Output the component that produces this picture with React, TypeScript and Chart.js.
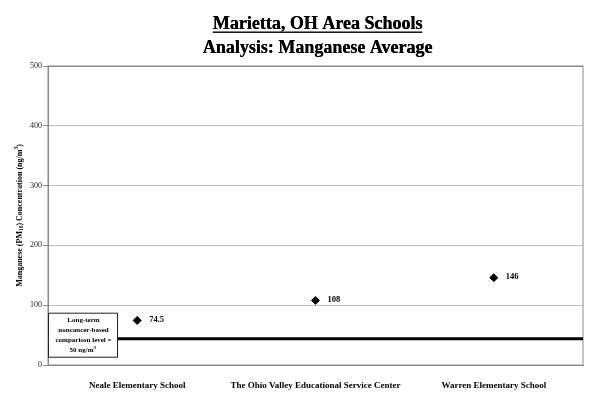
import React, { useEffect, useRef } from "react";
import { Chart, registerables } from "chart.js";

Chart.register(...registerables);

const categories = [
  "Neale Elementary School",
  "The Ohio Valley Educational Service Center",
  "Warren Elementary School",
];
const averages = [74.5, 108, 146];
const averageLabels = ["74.5", "108", "146"];
const comparisonLevel = 44;
const comparisonText = ["Long-term", "noncancer-based", "comparison level =", "50 ng/m"];
const yTicks = [0, 100, 200, 300, 400, 500];
const titleLines = ["Marietta, OH Area Schools", "Analysis: Manganese Average"];
const yTitleParts = [
  { t: "Manganese (PM", k: "n" },
  { t: "10", k: "sub" },
  { t: ") Concentration (ng/m", k: "n" },
  { t: "3", k: "sup" },
  { t: ")", k: "n" },
];

const SERIF = "'Liberation Serif', 'Times New Roman', serif";

const decorPlugin = {
  id: "decor",
  beforeDatasetsDraw(chart: any) {
    const { ctx, chartArea } = chart;
    const y = chart.scales.y;
    ctx.save();
    ctx.strokeStyle = "#8a8a8a";
    ctx.lineWidth = 1;
    ctx.strokeRect(chartArea.left, chartArea.top, chartArea.right - chartArea.left, chartArea.bottom - chartArea.top);
    const ly = y.getPixelForValue(comparisonLevel);
    ctx.strokeStyle = "#000";
    ctx.lineWidth = 3;
    ctx.beginPath();
    ctx.moveTo(chartArea.left, ly);
    ctx.lineTo(chartArea.right, ly);
    ctx.stroke();
    const bx = chartArea.left;
    const bw = 69;
    const by = ly - 26;
    const bh = 44;
    ctx.fillStyle = "#fff";
    ctx.fillRect(bx, by, bw, bh);
    ctx.strokeStyle = "#222";
    ctx.lineWidth = 1;
    ctx.strokeRect(bx + 0.5, by + 0.5, bw, bh);
    ctx.fillStyle = "#000";
    ctx.font = `bold 7px ${SERIF}`;
    ctx.textAlign = "center";
    ctx.textBaseline = "middle";
    const cx = bx + bw / 2 + 1;
    comparisonText.forEach((line, i) => {
      const ty = by + 7 + i * 10.3;
      if (i === comparisonText.length - 1) {
        const w = ctx.measureText(line).width;
        ctx.textAlign = "left";
        ctx.fillText(line, cx - w / 2 - 2, ty);
        ctx.font = `bold 5px ${SERIF}`;
        ctx.fillText("3", cx + w / 2 - 2, ty - 3);
      } else {
        ctx.fillText(line, cx, ty);
      }
    });
    ctx.restore();
  },
  afterDatasetsDraw(chart: any) {
    const { ctx } = chart;
    const meta = chart.getDatasetMeta(0);
    ctx.save();
    ctx.fillStyle = "#000";
    ctx.font = `bold 8.5px ${SERIF}`;
    ctx.textAlign = "left";
    ctx.textBaseline = "middle";
    meta.data.forEach((pt: any, i: number) => {
      ctx.fillText(averageLabels[i], pt.x + 12, pt.y - 1);
    });
    ctx.restore();
  },
  afterDraw(chart: any) {
    const { ctx, chartArea } = chart;
    ctx.save();
    const tx = (chartArea.left + chartArea.right) / 2 + 2;
    ctx.fillStyle = "#000";
    ctx.textAlign = "center";
    ctx.textBaseline = "alphabetic";
    ctx.font = `bold 18px ${SERIF}`;
    // slight double strike for heavier weight
    ctx.fillText(titleLines[0], tx, 29);
    ctx.fillText(titleLines[0], tx + 0.4, 29);
    const w = ctx.measureText(titleLines[0]).width;
    ctx.fillRect(tx - w / 2, 31.5, w, 1.4);
    ctx.fillText(titleLines[1], tx, 53);
    ctx.fillText(titleLines[1], tx + 0.4, 53);
    const cy = (chartArea.top + chartArea.bottom) / 2;
    ctx.translate(20, cy);
    ctx.rotate(-Math.PI / 2);
    const fontN = `bold 8px ${SERIF}`;
    const fontS = `bold 5.5px ${SERIF}`;
    let total = 0;
    yTitleParts.forEach((p) => {
      ctx.font = p.k === "n" ? fontN : fontS;
      total += ctx.measureText(p.t).width;
    });
    let x = -total / 2;
    ctx.textAlign = "left";
    ctx.textBaseline = "middle";
    yTitleParts.forEach((p) => {
      ctx.font = p.k === "n" ? fontN : fontS;
      const dy = p.k === "sub" ? 2 : p.k === "sup" ? -3 : 0;
      ctx.fillText(p.t, x, dy);
      x += ctx.measureText(p.t).width;
    });
    ctx.restore();
  },
};

export default function App() {
  const ref = useRef<HTMLCanvasElement>(null);
  useEffect(() => {
    document.body.style.margin = "0";
    const chart = new Chart(ref.current as HTMLCanvasElement, {
      type: "line",
      data: {
        labels: categories,
        datasets: [
          {
            data: averages,
            showLine: false,
            pointStyle: "rectRot",
            pointRadius: 4,
            pointBackgroundColor: "#000",
            pointBorderColor: "#000",
          },
        ],
      },
      options: {
        animation: false,
        responsive: true,
        maintainAspectRatio: false,
        layout: { padding: { top: 66, right: 17, bottom: 0, left: 0 } },
        plugins: { legend: { display: false }, tooltip: { enabled: false }, title: { display: false } },
        scales: {
          x: {
            offset: true,
            grid: { display: false },
            border: { color: "#8a8a8a" },
            ticks: {
              autoSkip: false,
              maxRotation: 0,
              padding: 7,
              color: "#000",
              font: { family: SERIF, size: 9, weight: "bold" },
            },
            afterFit: (s: any) => {
              s.height = 49;
            },
          },
          y: {
            min: 0,
            max: 500,
            afterBuildTicks: (s: any) => {
              s.ticks = yTicks.map((v) => ({ value: v }));
            },
            grid: {
              color: (c: any) => (c.tick && (c.tick.value === 0 || c.tick.value === 500) ? "#8a8a8a" : "#bdbdbd"),
              tickColor: "#8a8a8a",
              tickLength: 5,
            },
            border: { color: "#8a8a8a" },
            ticks: {
              padding: 1,
              color: "#222",
              font: { family: SERIF, size: 8 },
            },
            afterFit: (s: any) => {
              s.width = 48;
            },
          },
        },
      },
      plugins: [decorPlugin],
    } as any);
    return () => chart.destroy();
  }, []);
  return (
    <div style={{ position: "relative", width: 600, height: 414 }}>
      <canvas ref={ref} />
    </div>
  );
}
